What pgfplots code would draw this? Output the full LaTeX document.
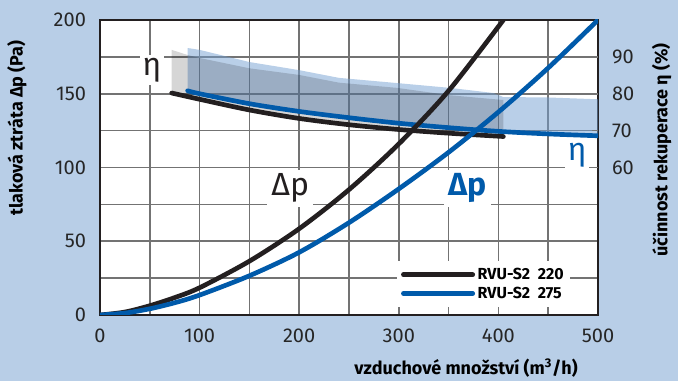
\documentclass[border=0pt]{standalone}
\usepackage{fontspec}
\setmainfont{Fira Sans}
\usepackage{pgfplots}
\pgfplotsset{compat=1.18}
\usetikzlibrary{backgrounds}
\definecolor{bgblue}{RGB}{184,206,231}
\definecolor{cblue}{RGB}{0,90,170}
\definecolor{cblack}{RGB}{35,31,32}
\definecolor{bandblue}{RGB}{115,159,209}
\begin{document}
\begin{tikzpicture}
\begin{axis}[
  name=main,
  scale only axis, width=373.5pt, height=221.25pt,
  xmin=0, xmax=500, ymin=0, ymax=200,
  xtick={0,100,...,500}, ytick={0,50,...,200},
  minor xtick={50,150,...,450}, minor ytick={25,75,...,175},
  grid=both,
  grid style={draw=black!55, line width=1.3pt},
  tick style={draw=black!55, line width=1.3pt},
  axis line style={cblack, line width=1.8pt},
  tick label style={font=\fontsize{15}{15}\selectfont, text=black!85},
  /pgf/number format/assume math mode=true,
  xticklabel style={yshift=-7pt},
  yticklabel style={xshift=-7pt},
  xlabel={vzduchové množství (m\textsuperscript{3}/h)},
  xlabel style={at={(rel axis cs:0.735,-0.18)}, anchor=center, font=\bfseries\fontsize{13.5}{14}\selectfont},
  ylabel={tlaková ztráta Δp (Pa)},
  ylabel style={at={(rel axis cs:-0.167,0.634)}, anchor=center, font=\bfseries\fontsize{13.5}{14}\selectfont},
  legend style={at={(rel axis cs:0.596,0.027)}, anchor=south west, draw=none, fill=white,
    font=\bfseries\fontsize{12}{13}\selectfont, inner xsep=3pt, inner ysep=3pt, row sep=0pt},
  legend cell align=left,
  legend image code/.code={\draw[#1] (0pt,0pt) -- (52pt,0pt);},
]
% efficiency bands (eta in %, mapped to left scale)
\addplot[forget plot, draw=none, fill=bandblue, fill opacity=0.5, y filter/.expression={(y-20)*2.5}]
 coordinates {(88,92.4)(100,91.9)(150,88.6)(200,86.4)(240,84.3)(298,82.9)(351,81.6)(395,80.2)(405,79.1)(449,79.0)(500,78.5)
 (500,68.6)(450,69.1)(400,69.8)(350,70.8)(300,72.0)(250,73.5)(200,75.2)(150,77.3)(100,80.0)(88,80.8)} -- cycle;
\addplot[forget plot, draw=none, fill=black, fill opacity=0.16, y filter/.expression={(y-20)*2.5}]
 coordinates {(72,91.9)(88,90.5)(100,89.7)(150,86.9)(200,85.1)(240,83.0)(298,81.6)(351,79.6)(405,78.3)
 (405,68.4)(350,69.3)(300,70.3)(250,71.6)(200,73.3)(150,75.6)(100,78.5)(72,80.2)} -- cycle;
% efficiency lines
\addplot[forget plot, cblack, line width=3.5pt, line cap=round, smooth, y filter/.expression={(y-20)*2.5}]
 coordinates {(72,80.2)(100,78.5)(150,75.6)(200,73.3)(250,71.6)(300,70.3)(350,69.3)(405,68.4)};
\addplot[forget plot, cblue, line width=3.5pt, line cap=round, smooth, y filter/.expression={(y-20)*2.5}]
 coordinates {(88,80.8)(100,80.0)(150,77.3)(200,75.2)(250,73.5)(300,72.0)(350,70.8)(400,69.8)(450,69.1)(500,68.6)};
% pressure loss
\addplot[cblack, line width=3.5pt, line cap=round, smooth]
 coordinates {(0,0)(25,2)(50,6.3)(75,11.8)(100,18.5)(150,36.5)(200,58.5)(250,85)(300,116)(350,152)(405,200)};
\addlegendentry{RVU-S2\ \ 220}
\addplot[cblue, line width=3.5pt, line cap=round, smooth]
 coordinates {(0,0)(25,1.3)(50,4.2)(75,8.3)(100,13.5)(150,26.6)(200,42.5)(250,62.6)(300,85.5)(350,110.3)(400,137.6)(450,167.5)(500,200)};
\addlegendentry{RVU-S2\ \ 275}
% labels
\node[fill=white, inner sep=2pt, text=cblack, font=\fontsize{24}{24}\selectfont] at (axis cs:52,166) {η};
\node[fill=white, inner sep=3pt, text=cblack, font=\fontsize{24}{24}\selectfont] at (axis cs:191,86) {Δp};
\node[fill=white, inner sep=3pt, text=cblue, font=\bfseries\fontsize{24}{24}\selectfont] at (axis cs:369,86) {Δp};
\node[fill=white, inner sep=2pt, text=cblue, font=\fontsize{24}{24}\selectfont] at (axis cs:479,108) {η};
\coordinate (sw) at (rel axis cs:0,0);
\coordinate (ne) at (rel axis cs:1,1);
\end{axis}
\begin{axis}[
  scale only axis, width=373.5pt, height=221.25pt,
  xmin=0, xmax=500, ymin=20, ymax=100,
  axis x line=none, axis y line*=right,
  axis line style={draw=none},
  ytick={60,70,80,90},
  tick style={draw=black!55, line width=1.3pt},
  tick label style={font=\fontsize{15}{15}\selectfont, text=black!85},
  /pgf/number format/assume math mode=true,
  yticklabel style={xshift=7pt},
  ylabel={účinnost rekuperace η (\%)},
  ylabel style={at={(rel axis cs:1.128,0.56)}, anchor=center, rotate=0, font=\bfseries\fontsize{13.5}{14}\selectfont},
]
\addplot[draw=none] coordinates {(0,50)(500,50)};
\end{axis}
\begin{scope}[on background layer]
\fill[bgblue, even odd rule] ([xshift=-75pt,yshift=-49.5pt]sw) rectangle ([xshift=60pt,yshift=15pt]ne) (sw) rectangle (ne);
\end{scope}
\pgfresetboundingbox
\path[use as bounding box] ([xshift=-75pt,yshift=-49.5pt]sw) rectangle ([xshift=60pt,yshift=15pt]ne);
\end{tikzpicture}
\end{document}
